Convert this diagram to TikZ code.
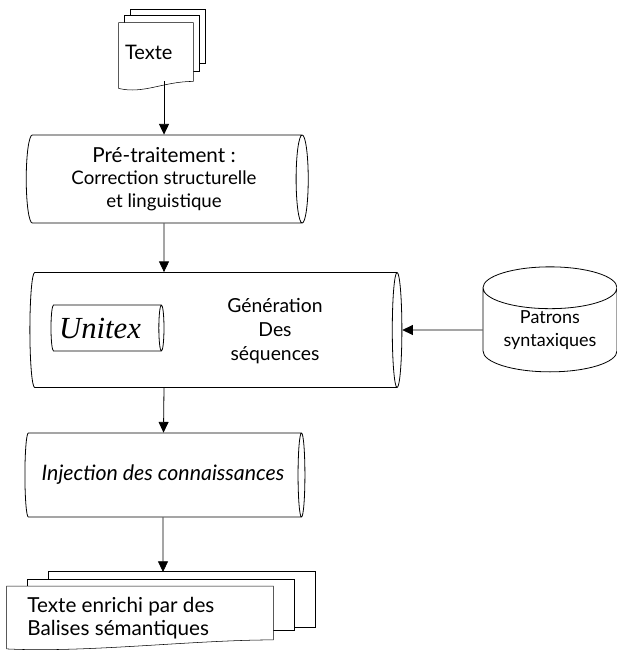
\documentclass[tikz,border=0pt]{standalone}
\usepackage{fontspec}
\setmainfont{Lato}
\newfontfamily\unifont{Liberation Serif}
\usetikzlibrary{shapes.geometric,arrows.meta,backgrounds,calc}
\newcommand{\pxu}{0.75pt}

\begin{document}
\begin{tikzpicture}[x=0.75pt, y=-0.75pt,
  semithick,
  every node/.style={font=\fontsize{14}{17}\selectfont},
  arr/.style={-{Triangle[length=8pt,width=7.5pt]}},
  cyl/.style={draw, cylinder, shape aspect=0.25, fill=white, align=center, inner sep=0pt},
  page/.style={draw, fill=white}
]
\useasboundingbox (0,0) rectangle (617,651);

\node (src) [minimum width=74*\pxu, minimum height=58*\pxu, text width=62*\pxu,
    align=left, inner xsep=0pt, font=\fontsize{15}{17}\selectfont] at (156,52) {Texte};
\node (pre) [cyl, shape aspect=0.19, minimum height=282*\pxu, minimum width=88*\pxu] at (164,179)
    {{\fontsize{15.5}{17}\selectfont Pré-traitement :}\\Correction structurelle\\et linguistique};
\node (gen) [cyl, shape aspect=0.12, inner ysep=30pt, minimum height=372*\pxu,
    minimum width=115*\pxu] at (211,330) {};
\node (gentxt) [align=center, font=\fontsize{14.5}{18}\selectfont] at (275,331)
    {Génération\\Des\\séquences};
\node (uni) [cyl, minimum height=113*\pxu, minimum width=46*\pxu,
    font=\unifont\itshape\fontsize{23}{24}\selectfont] at (106,328) {Unitex\hspace{9pt}};
\node (pat) [cyl, shape border rotate=90, shape aspect=0.45,
    minimum width=134*\pxu, minimum height=105*\pxu,
    font=\fontsize{13.5}{17.5}\selectfont] at (550,330) {Patrons\\syntaxiques};
\node (inj) [cyl, shape aspect=0.35, minimum height=280*\pxu, minimum width=84*\pxu,
    font=\itshape\fontsize{16}{17}\selectfont] at (163,475) {Injection des connaissances};
\node (out) [minimum width=266*\pxu, minimum height=53*\pxu] at (140,613) {};
\node (outtxt) [anchor=west, align=left, inner sep=0pt, font=\fontsize{15.5}{17.5}\selectfont]
    at (27,618) {Texte enrichi par des\\Balises sémantiques};
\coordinate (outtop) at (163,572);

\begin{scope}[on background layer]
  \draw[page] ([shift={(12,-13)}]src.north west) rectangle ([shift={(12,-18)}]src.south east);
  \draw[page] ([shift={(6,-7)}]src.north west) rectangle ([shift={(6,-10)}]src.south east);
  \draw[page] (src.north west) -- (src.north east) -- (src.south east)
    .. controls +(-30,0) and +(25,6) .. ($(src.south west)+(0,7)$) -- cycle;
  \draw[page] ([shift={(42,-15)}]out.north west) rectangle ([shift={(42,-13)}]out.south east);
  \draw[page] ([shift={(21,-7)}]out.north west) rectangle ([shift={(21,-10)}]out.south east);
  \draw[page] (out.north west) -- (out.north east) -- (out.south east)
    .. controls +(-80,0) and +(80,4) .. ($(out.south west)+(0,9)$) -- cycle;
\end{scope}

\draw[arr] (pre.north |- src.south) -- (pre.north);
\draw[arr] (pre) -- (pre |- gen.north);
\draw[arr] (pat) -- (gen);
\draw[arr] (pre |- gen.south) -- (inj);
\draw[arr] (inj) -- (outtop);
\end{tikzpicture}
\end{document}
